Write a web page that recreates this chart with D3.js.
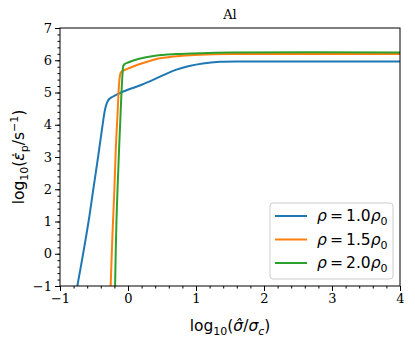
<html>
<script src='https://d3js.org/d3.v7.min.js'></script>
<style>
body { margin: 0; background: #fff; }
.tick text { font-family: 'DejaVu Serif', serif; font-size: 13px; fill: #000; }
.lab { font-family: 'DejaVu Sans', sans-serif; font-size: 15.5px; }
</style>
<body>
<svg width="415" height="344" class="chart"></svg>
<script>
var xTicks = [-1, 0, 1, 2, 3, 4];
var yTicks = [-1, 0, 1, 2, 3, 4, 5, 6, 7];

var blueX = [-0.745, -0.66, -0.58, -0.51, -0.44, -0.38, -0.34, -0.31, -0.28, -0.25, -0.18, -0.07, 0.2, 0.47, 0.7, 0.9, 1.1, 1.35, 1.7, 4];
var blueY = [-1, 0, 1, 2, 3, 3.9, 4.45, 4.68, 4.79, 4.84, 4.92, 5.03, 5.24, 5.49, 5.7, 5.82, 5.9, 5.95, 5.96, 5.96];

var orangeX = [-0.255, -0.23, -0.2, -0.18, -0.15, -0.13, -0.11, -0.09, 0, 0.2, 0.47, 0.8, 1.06, 1.5, 4];
var orangeY = [-1, 0.5, 2, 3.22, 4.5, 5.3, 5.6, 5.66, 5.74, 5.9, 6.06, 6.14, 6.17, 6.19, 6.19];

var greenX = [-0.19, -0.17, -0.13, -0.1, -0.08, -0.07, -0.05, 0, 0.15, 0.4, 0.7, 1.06, 1.5, 4];
var greenY = [-1, 1, 3.3, 4.8, 5.6, 5.82, 5.88, 5.93, 6.04, 6.14, 6.19, 6.22, 6.24, 6.24];

var names = ['1.0', '1.5', '2.0'];
var colors = ['#1f77b4', '#ff7f0e', '#2ca02c'];

var svg = d3.select('.chart');
var pl = 60, pr = 400, pt = 28, pb = 286;

var x = d3.scaleLinear().domain([-1, 4]).range([pl, pr]);
var y = d3.scaleLinear().domain([-1, 7]).range([pb, pt]);

var series = [[blueX, blueY], [orangeX, orangeY], [greenX, greenY]];

svg.append('defs').append('clipPath').attr('id', 'clip')
  .append('rect').attr('x', pl).attr('y', pt).attr('width', pr - pl).attr('height', pb - pt);

var line = d3.line().x(function(d) { return x(d[0]); }).y(function(d) { return y(d[1]); })
  .curve(d3.curveCatmullRom.alpha(0.5));

svg.append('g').attr('clip-path', 'url(#clip)')
  .selectAll('path').data(series).enter().append('path')
  .attr('d', function(s) { return line(d3.zip(s[0], s[1])); })
  .attr('fill', 'none')
  .attr('stroke', function(s, i) { return colors[i]; })
  .attr('stroke-width', 2);

// minor ticks
var xMinor = d3.range(-1, 4.001, 0.2);
var yMinor = d3.range(-1, 7.001, 0.2);
svg.append('g').attr('transform', 'translate(0,' + pb + ')')
  .call(d3.axisBottom(x).tickValues(xMinor).tickSize(2.5).tickFormat(''))
  .call(function(g) { g.select('.domain').remove(); });
svg.append('g').attr('transform', 'translate(' + pl + ',0)')
  .call(d3.axisLeft(y).tickValues(yMinor).tickSize(2.5).tickFormat(''))
  .call(function(g) { g.select('.domain').remove(); });

var fmt = function(d) { return d < 0 ? '\u2212' + Math.abs(d) : String(d); };
svg.append('g').attr('transform', 'translate(0,' + pb + ')')
  .call(d3.axisBottom(x).tickValues(xTicks).tickSize(5).tickPadding(3).tickFormat(fmt))
  .call(function(g) { g.select('.domain').remove(); });
svg.append('g').attr('transform', 'translate(' + pl + ',0)')
  .call(d3.axisLeft(y).tickValues(yTicks).tickSize(5).tickPadding(3).tickFormat(fmt))
  .call(function(g) { g.select('.domain').remove(); });

svg.append('rect').attr('x', pl).attr('y', pt).attr('width', pr - pl).attr('height', pb - pt)
  .attr('fill', 'none').attr('stroke', '#000').attr('stroke-width', 1);

// title
svg.append('text').attr('x', (pl + pr) / 2).attr('y', 19).attr('text-anchor', 'middle')
  .style('font-family', 'DejaVu Serif, serif').style('font-size', '13px').text('Al');

// x label
var xl = svg.append('text').attr('class', 'lab').attr('x', (pl + pr) / 2).attr('y', 331).attr('text-anchor', 'middle');
xl.append('tspan').text('log');
xl.append('tspan').attr('dy', 4).style('font-size', '11px').text('10');
xl.append('tspan').attr('dy', -4).text('(');
xl.append('tspan').style('font-style', 'italic').text('\u03c3\u0302');
xl.append('tspan').text('/');
xl.append('tspan').style('font-style', 'italic').text('\u03c3');
xl.append('tspan').attr('dy', 4).style('font-size', '11px').style('font-style', 'italic').text('c');
xl.append('tspan').attr('dy', -4).text(')');

// y label
var yl = svg.append('text').attr('class', 'lab').attr('text-anchor', 'middle')
  .attr('transform', 'translate(24,' + (pt + pb) / 2 + ') rotate(-90)');
yl.append('tspan').text('log');
yl.append('tspan').attr('dy', 4).style('font-size', '11px').text('10');
yl.append('tspan').attr('dy', -4).text('(');
yl.append('tspan').style('font-style', 'italic').text('\u03b5\u0307');
yl.append('tspan').attr('dy', 4).style('font-size', '11px').text('p');
yl.append('tspan').attr('dy', -4).text('/s');
yl.append('tspan').attr('dy', -6).style('font-size', '11px').text('\u22121');
yl.append('tspan').attr('dy', 6).text(')');

// legend
var lg = svg.append('g');
lg.append('rect').attr('x', 270).attr('y', 203).attr('width', 123).attr('height', 76).attr('rx', 3)
  .attr('fill', '#fff').attr('fill-opacity', 0.8).attr('stroke', '#ccc');
names.forEach(function(n, i) {
  var yy = 216 + i * 23.5;
  lg.append('line').attr('x1', 275).attr('x2', 307).attr('y1', yy).attr('y2', yy)
    .attr('stroke', colors[i]).attr('stroke-width', 2);
  var t = lg.append('text').attr('class', 'lab').attr('x', 317).attr('y', yy + 5);
  t.append('tspan').style('font-style', 'italic').text('\u03c1');
  t.append('tspan').text('\u2009=\u2009' + n);
  t.append('tspan').style('font-style', 'italic').text('\u03c1');
  t.append('tspan').attr('dy', 4).style('font-size', '11px').text('0');
});
</script>
</body>
</html>
